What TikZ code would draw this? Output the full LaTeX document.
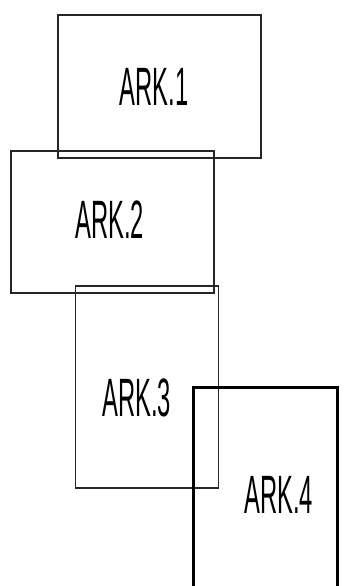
\documentclass[tikz,border=0pt]{standalone}
\usepackage{fontspec}
\setmainfont{Liberation Sans}
\begin{document}
\begin{tikzpicture}[x=1pt,y=-1pt,
  box/.style={draw=black!85, line width=1.8pt, inner sep=0pt},
  boxthick/.style={draw=black, line width=3pt, inner sep=0pt},
  lbl/.style={anchor=base, inner sep=0pt, font=\fontsize{54}{60}\selectfont}]
\useasboundingbox (0,0) rectangle (356,586);
\clip (0,0) rectangle (356,586);
\node[box, minimum width=203pt, minimum height=143pt] (b1) at (159.5,86.5) {};
\node[box, minimum width=203pt, minimum height=142pt] (b2) at (112.5,222) {};
\node[box, minimum width=143pt, minimum height=202pt] (b3) at (147,387) {};
\node[boxthick, minimum width=144pt, minimum height=240pt] (b4) at (265,507) {};
\node[lbl] (t1) at (154,105) {\scalebox{0.44}[1]{ARK.1}};
\node[lbl] (t2) at (109.5,238) {\scalebox{0.44}[1]{ARK.2}};
\node[lbl] (t3) at (136.5,416) {\scalebox{0.44}[1]{ARK.3}};
\node[lbl] (t4) at (278.5,513) {\scalebox{0.44}[1]{ARK.4}};
\end{tikzpicture}
\end{document}
